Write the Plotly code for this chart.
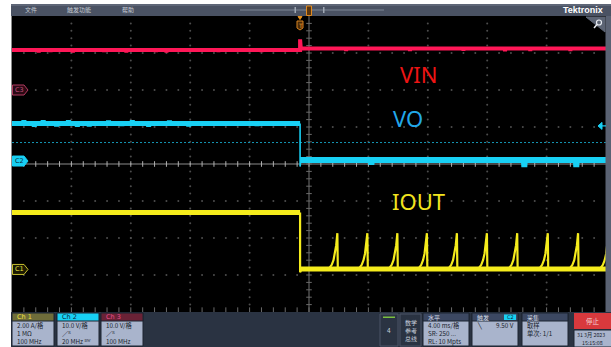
import plotly.graph_objects as go

W, H = 611, 347

# ---------------- acquisition ----------------
# time in ms relative to screen centre, 4 ms/div over 10 div
T_MIN, T_MAX = -20.0, 20.0
t_event = -0.6          # trigger / load step instant

# vertical settings: (units per div, marker position in div)
ch1_scale, ch1_pos = 2.0, -2.85    # IOUT  [A]
ch2_scale, ch2_pos = 10.0, 0.08    # VO    [V]
ch3_scale, ch3_pos = 10.0, 2.0     # VIN   [V]

# Ch3 - VIN
vin_pre = 10.8
vin_post = 11.2
vin_peak = 13.7
vin_dip_t = [-18.2, -17.4, -15.9, -13.8, -12.3, -10.3, -9.6, -6.1, -3.2,
             2.5, 6.8, 10.4, 13.2, 14.9, 17.6]
vin_dip_v = [10.2, 10.3, 10.2, 10.3, 10.2, 10.3, 10.2, 10.3, 10.3,
             10.6, 10.6, 10.7, 10.5, 10.6, 10.6]

# Ch2 - VO
vo_pre = 10.15
vo_post = 0.3
vo_undershoot = -1.5
vo_glitch_t = [-19.2, -18.5, -17.9, -17.0, -16.2, -15.6, -14.8, -13.5, -12.6,
               -11.9, -10.8, -9.4, -8.1, -3.5, 4.2, 14.5, 18.0]
vo_glitch_v = [11.0, 9.3, 11.0, 9.4, 11.0, 9.3, 9.4, 10.9, 9.5,
               11.0, 9.3, 10.9, 9.4, 9.5, -1.0, -1.6, -1.6]
vo_trig_level = 9.5
vo_ref_level = 5.0

# Ch1 - IOUT
iout_pre = 3.08
iout_base = 0.02
iout_undershoot = -0.15
pulse_peak_t = [1.91, 3.93, 5.95, 7.94, 9.96, 11.98, 14.02, 16.08, 18.12, 20.17]
pulse_dt = [-0.70, -0.52, -0.38, -0.26, -0.16, -0.08, 0.0, 0.03]
pulse_i = [0.02, 0.10, 0.25, 0.50, 0.85, 1.30, 1.96, 0.02]

# ---------------- colours ----------------
C_RED = "#ff1757"
C_CYAN = "#18d0f4"
C_YEL = "#f5ec1c"
C_PANEL = "#2a3342"
C_BOX = "#a9b4cc"


def div(v, scale, pos):
    return pos + v / scale


def flat_with_glitches(t0, t1, level, gt, gv):
    xs, ys = [t0], [level]
    for t, v in sorted(zip(gt, gv)):
        if t0 < t < t1:
            xs += [t - 0.03, t, t + 0.03]
            ys += [level, v, level]
    xs.append(t1)
    ys.append(level)
    return xs, ys


fig = go.Figure()

# ---------------- graticule ----------------
gx, gy = [], []
for row in [-3, -2, -1, 1, 2, 3]:
    for k in range(1, 50):
        gx.append(T_MIN + k * 0.8)
        gy.append(row)
for col in [-16, -12, -8, -4, 4, 8, 12, 16]:
    for k in range(1, 40):
        gx.append(col)
        gy.append(-4 + k * 0.2)
fig.add_trace(go.Scatter(x=gx, y=gy, mode="markers",
                         marker=dict(size=2, color="#4d4d4d"),
                         hoverinfo="skip", showlegend=False))
# centre crosshair
fig.add_trace(go.Scatter(x=[0, 0], y=[-4, 4], mode="lines",
                         line=dict(color="#3a3a3a", width=2),
                         hoverinfo="skip", showlegend=False))
fig.add_trace(go.Scatter(x=[T_MIN, T_MAX], y=[0, 0], mode="lines",
                         line=dict(color="#8c8c8c", width=1.2),
                         hoverinfo="skip", showlegend=False))
tx = [T_MIN + k * 0.8 for k in range(1, 50)]
fig.add_trace(go.Scatter(x=tx, y=[0] * len(tx), mode="markers",
                         marker=dict(symbol="line-ns", size=4,
                                     line=dict(color="#b0b0b0", width=1)),
                         hoverinfo="skip", showlegend=False))
ty = [-4 + k * 0.2 for k in range(1, 40)]
fig.add_trace(go.Scatter(x=[0] * len(ty), y=ty, mode="markers",
                         marker=dict(symbol="line-ew", size=4,
                                     line=dict(color="#6a6a6a", width=1)),
                         hoverinfo="skip", showlegend=False))
# bottom edge ticks
fig.add_trace(go.Scatter(x=tx, y=[-3.95] * len(tx), mode="markers",
                         marker=dict(symbol="line-ns", size=4,
                                     line=dict(color="#6a6a6a", width=1)),
                         hoverinfo="skip", showlegend=False))

# ---------------- Ch2 reference line ----------------
fig.add_trace(go.Scatter(x=[T_MIN, T_MAX],
                         y=[div(vo_ref_level, ch2_scale, ch2_pos)] * 2,
                         mode="lines",
                         line=dict(color="#1596b4", width=1, dash="2px,2px"),
                         hoverinfo="skip", showlegend=False))

# ---------------- VIN ----------------
x1, y1 = flat_with_glitches(T_MIN, t_event, vin_pre, vin_dip_t, vin_dip_v)
x2, y2 = flat_with_glitches(t_event + 0.05, T_MAX, vin_post, vin_dip_t, vin_dip_v)
vx = x1 + [t_event, t_event + 0.05] + x2
vy = y1 + [vin_peak, vin_post] + y2
fig.add_trace(go.Scatter(x=vx, y=[div(v, ch3_scale, ch3_pos) for v in vy],
                         mode="lines", line=dict(color=C_RED, width=4),
                         hoverinfo="skip", showlegend=False))

# ---------------- VO ----------------
x1, y1 = flat_with_glitches(T_MIN, t_event, vo_pre, vo_glitch_t, vo_glitch_v)
fig.add_trace(go.Scatter(x=x1, y=[div(v, ch2_scale, ch2_pos) for v in y1],
                         mode="lines", line=dict(color=C_CYAN, width=5),
                         hoverinfo="skip", showlegend=False))
fig.add_trace(go.Scatter(x=[t_event, t_event, t_event + 0.05],
                         y=[div(v, ch2_scale, ch2_pos)
                            for v in (vo_pre, vo_undershoot, vo_post)],
                         mode="lines", line=dict(color=C_CYAN, width=1.6),
                         hoverinfo="skip", showlegend=False))
x2, y2 = flat_with_glitches(t_event, T_MAX, vo_post, vo_glitch_t, vo_glitch_v)
fig.add_trace(go.Scatter(x=x2, y=[div(v, ch2_scale, ch2_pos) for v in y2],
                         mode="lines", line=dict(color=C_CYAN, width=6),
                         hoverinfo="skip", showlegend=False))

# ---------------- IOUT ----------------
fig.add_trace(go.Scatter(x=[T_MIN, t_event],
                         y=[div(iout_pre, ch1_scale, ch1_pos)] * 2,
                         mode="lines", line=dict(color=C_YEL, width=5),
                         hoverinfo="skip", showlegend=False))
fig.add_trace(go.Scatter(x=[t_event, T_MAX],
                         y=[div(iout_base, ch1_scale, ch1_pos)] * 2,
                         mode="lines", line=dict(color=C_YEL, width=5),
                         hoverinfo="skip", showlegend=False))
ix = [t_event, t_event, t_event + 0.1]
iy = [iout_pre, iout_undershoot, iout_base]
for p in pulse_peak_t:
    for dt, i in zip(pulse_dt, pulse_i):
        ix.append(p + dt)
        iy.append(i)
fig.add_trace(go.Scatter(x=ix, y=[div(v, ch1_scale, ch1_pos) for v in iy],
                         mode="lines", line=dict(color=C_YEL, width=2.2),
                         hoverinfo="skip", showlegend=False))

# ---------------- signal names ----------------
for txt, xx, yy, col in [("VIN", 7.34, 2.43, "#ee1414"),
                         ("VO", 6.67, 1.24, "#22a8ea"),
                         ("IOUT", 7.34, -1.0, "#f2e41e")]:
    fig.add_annotation(x=xx, y=yy, xref="x", yref="y", text=txt,
                       showarrow=False, xanchor="center", yanchor="middle",
                       font=dict(family="Noto Sans", size=22, color=col))

# ---------------- instrument frame ----------------
def px(x):
    return x / W


def py(y):
    return 1 - y / H


shapes = []


def rect(x0, y0, x1, y1, fill, line=None, lw=0, layer="above"):
    shapes.append(dict(type="rect", xref="paper", yref="paper",
                       x0=px(x0), x1=px(x1), y0=py(y1), y1=py(y0),
                       fillcolor=fill, layer=layer,
                       line=dict(color=line or fill, width=lw)))


def poly(pts, fill, line, lw=1):
    d = "M " + " L ".join(f"{px(a):.5f},{py(b):.5f}" for a, b in pts) + " Z"
    shapes.append(dict(type="path", xref="paper", yref="paper", path=d,
                       fillcolor=fill, line=dict(color=line, width=lw),
                       layer="above"))


def label(x, y, txt, color, size=6.5, anchor="left", bold=False,
          family="Noto Sans CJK SC"):
    if bold:
        txt = f"<b>{txt}</b>"
    fig.add_annotation(x=px(x), y=py(y), xref="paper", yref="paper",
                       text=txt, showarrow=False, xanchor=anchor,
                       yanchor="middle",
                       font=dict(family=family, size=size, color=color))


# panel backgrounds (screen area kept black)
rect(11, 4, 611, 16, "#4a5263", layer="below")
rect(11, 4, 611, 6, "#5e6677", layer="below")
rect(11, 312, 611, 347, C_PANEL, layer="below")
rect(12, 16, 606, 312, "#000000", layer="below")
rect(605.5, 16, 611, 312, "#5a6273")
rect(11, 16, 12, 312, "#8a8a8a")

# menu bar
label(23, 10, "文件", "#c4c9d2", 6)
label(65, 10, "触发功能", "#c4c9d2", 6)
label(120, 10, "帮助", "#c4c9d2", 6)
rect(240, 9.5, 384, 10.5, "#7d8595")
rect(294.5, 7, 296, 13, "#a0a8b4")
rect(323, 7, 324.5, 13, "#a0a8b4")
rect(306.5, 6, 311.5, 15.5, "#5a3610", "#e08a20", 1)
label(605, 9.5, "Tektronix", "#ffffff", 9, anchor="right", bold=True,
      family="Liberation Sans")

# zoom corner
poly([(586, 17), (605, 17), (605, 32)], "#5c6474", "#5c6474")
shapes.append(dict(type="circle", xref="paper", yref="paper",
                   x0=px(596.5), x1=px(601.5), y0=py(25), y1=py(20),
                   line=dict(color="#e8ecf2", width=1.2), layer="above"))
shapes.append(dict(type="line", xref="paper", yref="paper",
                   x0=px(597), x1=px(594), y0=py(24.5), y1=py(28),
                   line=dict(color="#e8ecf2", width=1.5), layer="above"))

# trigger position marker
poly([(298, 16.5), (302, 16.5), (300, 19.5)], "#e8901c", "#e8901c")
poly([(297, 21), (303, 21), (303, 28), (300, 30), (297, 28)],
     "#4a2a08", "#d88420")
label(300, 25, "T", "#f0a030", 6, anchor="center", family="DejaVu Sans")

# trigger level arrow (Ch2)
ty_div = div(vo_trig_level, ch2_scale, ch2_pos)
ty_px = 164 - ty_div * 37
poly([(598, ty_px), (602, ty_px - 3.5), (602, ty_px + 3.5)], C_CYAN, C_CYAN)
rect(601, ty_px - 0.6, 606, ty_px + 0.6, C_CYAN)


# channel ground markers
def ch_marker(ypix, fill, edge, txt, tcol):
    poly([(12.5, ypix - 5), (24, ypix - 5), (28, ypix), (24, ypix + 5),
          (12.5, ypix + 5)], fill, edge, 1)
    label(19, ypix, txt, tcol, 6.5, anchor="center", family="DejaVu Sans")


ch_marker(164 - ch3_pos * 37, "#2a0a14", "#b23a60", "C3", "#c0507a")
ch_marker(164 - ch2_pos * 37, C_CYAN, C_CYAN, "C2", "#0a2a3a")
ch_marker(164 - ch1_pos * 37, "#1c1a02", "#c8c030", "C1", "#e8e040")

# ---------------- bottom panel ----------------
def ch_box(x0, head_fill, head_txt_col, title, lines):
    rect(x0, 313, x0 + 42, 346, C_BOX, "#1c2430", 1)
    rect(x0, 313, x0 + 42, 321, head_fill, "#1c2430", 1)
    label(x0 + 3, 317, title, head_txt_col, 6.5, family="DejaVu Sans")
    for k, t in enumerate(lines):
        label(x0 + 3, 325.5 + 8 * k, t, "#1a1f2c", 6.3)


ch_box(12, "#6e6c3a", "#f0e040", "Ch 1", ["2.00 A/格", "1 MΩ", "100 MHz"])
ch_box(57, C_CYAN, "#102838", "Ch 2", ["10.0 V/格", "∕ᴿ", "20 MHz ᴮᵂ"])
ch_box(101, "#6a2236", "#e8508a", "Ch 3", ["10.0 V/格", "∕ᴿ", "100 MHz"])

# waveform count
rect(380, 314, 398, 346, C_PANEL, "#4a5566", 1)
rect(383, 316.5, 395, 318, "#7ac040")
label(389, 330, "4", "#c8d0dc", 6.5, anchor="center")

# math / ref / bus
rect(400, 314, 421, 346, C_PANEL, "#4a5566", 1)
for k, t in enumerate(["数学", "参考", "总线"]):
    label(410.5, 322 + 8 * k, t, "#c8d0dc", 6, anchor="center")

# horizontal
rect(423, 313, 469, 346, C_BOX, "#1c2430", 1)
rect(423, 313, 469, 321, "#3c4862", "#1c2430", 1)
label(426, 317, "水平", "#d8dee8", 6)
for k, t in enumerate(["4.00 ms/格", "SR: 250 ...", "RL: 10 Mpts"]):
    label(426, 325.5 + 8 * k, t, "#1a1f2c", 6.3)

# trigger
rect(472, 313, 518, 346, C_BOX, "#1c2430", 1)
rect(472, 313, 518, 321, "#3c4862", "#1c2430", 1)
label(475, 317, "触发", "#d8dee8", 6)
rect(504, 314.5, 516, 320, C_CYAN)
label(510, 317.3, "C2", "#0a2a3a", 5, anchor="center", family="DejaVu Sans")
label(475, 325.5, "╲", "#1a1f2c", 6.3, family="DejaVu Sans")
label(516, 325.5, "9.50 V", "#1a1f2c", 6.3, anchor="right")

# acquisition
rect(522, 313, 568, 346, C_BOX, "#1c2430", 1)
rect(522, 313, 568, 321, "#3c4862", "#1c2430", 1)
label(525, 317, "采集", "#d8dee8", 6)
label(525, 325.5, "取样", "#1a1f2c", 6.3)
label(525, 333.5, "单次: 1/1", "#1a1f2c", 6.3)

# run state + clock
rect(574, 313, 612, 329, "#d8393d", "#d8393d", 0)
label(593, 321, "停止", "#f4d8d8", 6.5, anchor="center")
rect(574, 330, 612, 347, C_BOX, "#1c2430", 1)
label(575, 334.5, "31 3月 2023", "#1a1f2c", 5.3)
label(580, 342.5, "15:15:08", "#1a1f2c", 5.3)

fig.update_layout(
    width=W, height=H,
    margin=dict(l=0, r=0, t=0, b=0),
    paper_bgcolor="#ffffff",
    plot_bgcolor="#000000",
    shapes=shapes,
    showlegend=False,
    xaxis=dict(domain=[px(12), px(606)], range=[T_MIN, T_MAX],
               showgrid=False, zeroline=False, showticklabels=False,
               ticks="", fixedrange=True),
    yaxis=dict(domain=[py(312), py(16)], range=[-4, 4],
               showgrid=False, zeroline=False, showticklabels=False,
               ticks="", fixedrange=True),
)

fig.write_html("out.html")
